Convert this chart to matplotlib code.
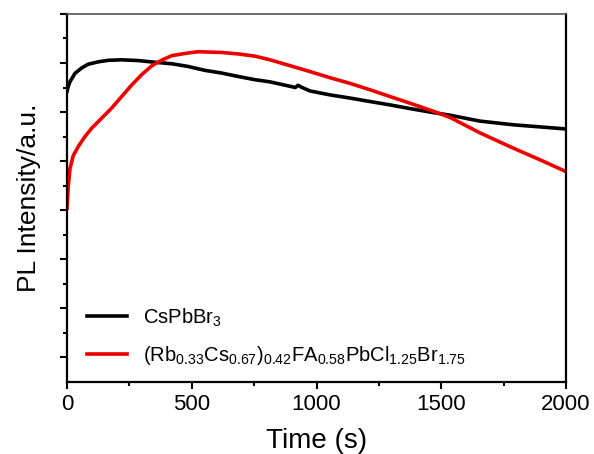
import matplotlib
matplotlib.use('Agg')
import matplotlib.pyplot as plt
from matplotlib.ticker import FixedLocator, NullFormatter

plt.rcParams['font.family'] = ['Liberation Sans', 'DejaVu Sans']
plt.rcParams['mathtext.fontset'] = 'custom'
plt.rcParams['mathtext.rm'] = 'Liberation Sans'
plt.rcParams['mathtext.it'] = 'Liberation Sans:italic'

# CsPbBr3 trace (time in s, intensity in arb. units)
t_cs = [0, 5, 12, 32, 59, 85, 126, 166, 219, 285, 353, 420, 485, 553, 620, 686,
        753, 814, 894, 915, 926, 940, 974, 1054, 1134, 1214, 1295, 1375,
        1455, 1535, 1655, 1788, 2000]
pl_cs = [11.84, 12.05, 12.24, 12.58, 12.80, 12.95, 13.05, 13.11, 13.13, 13.10,
         13.03, 12.97, 12.86, 12.70, 12.59, 12.45, 12.32, 12.23, 12.05, 12.00,
         12.09, 12.01, 11.86, 11.70, 11.57, 11.43, 11.29, 11.14, 11.00, 10.87,
         10.63, 10.48, 10.31]

# mixed-cation trace
t_mix = [0, 5, 12, 25, 45, 72, 99, 139, 179, 219, 259, 299, 339, 380, 420,
         486, 526, 620, 686, 753, 814, 894, 974, 1054, 1134, 1214, 1295, 1375,
         1455, 1535, 1655, 1788, 1896, 2000]
pl_mix = [7.08, 7.96, 8.70, 9.22, 9.59, 10.0, 10.34, 10.75, 11.16, 11.63, 12.10,
          12.52, 12.88, 13.12, 13.30, 13.41, 13.46, 13.43, 13.37, 13.28, 13.13,
          12.89, 12.65, 12.40, 12.17, 11.91, 11.63, 11.36, 11.08, 10.78, 10.15,
          9.53, 9.05, 8.57]

label_cs = r'CsPbBr$\mathregular{_3}$'
label_mix = (r'(Rb$\mathregular{_{0.33}}$Cs$\mathregular{_{0.67}}$)$\mathregular{_{0.42}}$'
             r'FA$\mathregular{_{0.58}}$PbCl$\mathregular{_{1.25}}$Br$\mathregular{_{1.75}}$')

fig = plt.figure(figsize=(5.94, 4.54), dpi=100)
ax = fig.add_axes([0.1128, 0.1593, 0.8401, 0.8099])

ax.plot(t_cs, pl_cs, color='black', lw=2.6, label=label_cs)
ax.plot(t_mix, pl_mix, color='#ee0000', lw=2.6, label=label_mix)

ax.set_xlim(0, 2000)
ax.set_ylim(0, 15)
ax.set_xticks([0, 500, 1000, 1500, 2000])
ax.xaxis.set_minor_locator(FixedLocator([250, 750, 1250, 1750]))
ax.yaxis.set_major_locator(FixedLocator([1, 3, 5, 7, 9, 11, 13, 15]))
ax.yaxis.set_minor_locator(FixedLocator([2, 4, 6, 8, 10, 12, 14]))
ax.yaxis.set_major_formatter(NullFormatter())

ax.tick_params(which='major', direction='out', length=5, width=1.5, labelsize=16, pad=4)
ax.tick_params(which='minor', direction='out', length=3.2, width=1.5)
ax.tick_params(top=False, right=False)

for side in ['left', 'bottom', 'right']:
    ax.spines[side].set_linewidth(1.6)
ax.spines['top'].set_linewidth(1.2)
ax.spines['top'].set_color('#555555')

ax.set_xlabel('Time (s)', fontsize=20, labelpad=9)
ax.set_ylabel('PL Intensity/a.u.', fontsize=19, labelpad=10)

leg = ax.legend(loc='upper left', bbox_to_anchor=(0.04, 0.205), frameon=False,
                fontsize=14.5, handlelength=2.0, handletextpad=0.8,
                labelspacing=0.75, borderpad=0, borderaxespad=0)
for line in leg.get_lines():
    line.set_linewidth(2.6)

fig.savefig('out.png', dpi=100)
